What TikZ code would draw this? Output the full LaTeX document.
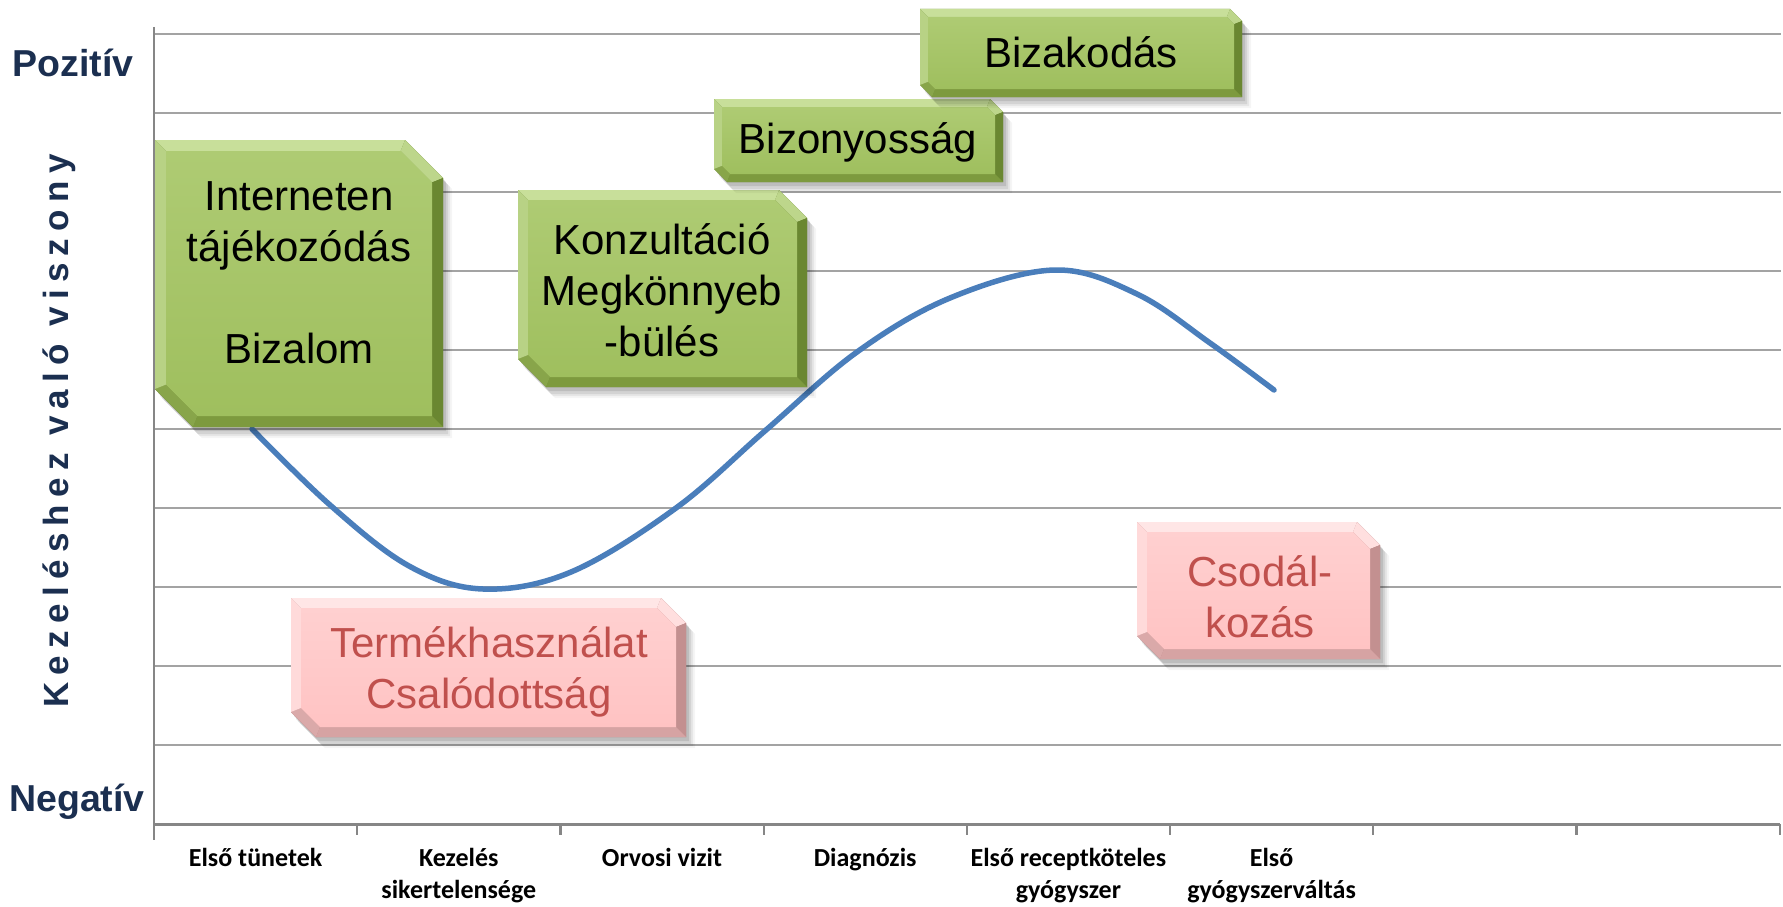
\documentclass[tikz,border=0pt]{standalone}
\usepackage{fontspec}
\setmainfont{Liberation Sans}
\newfontfamily\calfont{Carlito}
\newfontfamily\spacedfont{Liberation Sans}[LetterSpace=21]
\usetikzlibrary{calc}
\pgfdeclarelayer{bg}
\pgfdeclarelayer{boxlayer}
\pgfsetlayers{bg,boxlayer,main}

\definecolor{navy}{HTML}{1B2F50}
\definecolor{gridgray}{HTML}{A3A3A3}
\definecolor{axisgray}{HTML}{868686}
\definecolor{curveblue}{HTML}{4A7EBB}
\definecolor{pinktext}{HTML}{C0504D}
% green palette
\definecolor{gFaceT}{HTML}{AECB73}
\definecolor{gFaceB}{HTML}{9FBF5E}
\definecolor{gTop}{HTML}{C8DF9A}
\definecolor{gLeft}{HTML}{B8D285}
\definecolor{gTR}{HTML}{BDD68B}
\definecolor{gRight}{HTML}{6A8731}
\definecolor{gBot}{HTML}{7D9A3E}
\definecolor{gBL}{HTML}{88A54A}
\definecolor{gEdge}{HTML}{5F7A2A}
% pink palette
\definecolor{pFaceT}{HTML}{FFD0D0}
\definecolor{pFaceB}{HTML}{FFC3C3}
\definecolor{pTop}{HTML}{FFE6E6}
\definecolor{pLeft}{HTML}{FFDADA}
\definecolor{pTR}{HTML}{FFDFDF}
\definecolor{pRight}{HTML}{C39090}
\definecolor{pBot}{HTML}{D6A3A3}
\definecolor{pBL}{HTML}{DAA9A9}
\definecolor{pEdge}{HTML}{B07C7C}

\newcommand\bevelbox[7]{%
 \def\bxL{#1}\def\bxT{#2}\def\bxR{#3}\def\bxB{#4}\def\bxc{#5}\def\bxw{#6}%
 \pgfmathsetmacro\bxd{#5-0.6*#6}%
 \begin{pgfonlayer}{boxlayer}
 \foreach \sx/\sy/\op in {9/11/0.04,7/9/0.06,5/7/0.08,3/4/0.1}{%
   \fill[black,opacity=\op,shift={(\sx,\sy)}] (\bxL,\bxT) -- ({\bxR-\bxc},\bxT) -- (\bxR,{\bxT+\bxc}) -- (\bxR,\bxB) -- ({\bxL+\bxc},\bxB) -- (\bxL,{\bxB-\bxc}) -- cycle;}
 \fill[#7Edge] (\bxL,\bxT) -- ({\bxR-\bxc},\bxT) -- (\bxR,{\bxT+\bxc}) -- (\bxR,\bxB) -- ({\bxL+\bxc},\bxB) -- (\bxL,{\bxB-\bxc}) -- cycle;
 \fill[#7Top] (\bxL,\bxT) -- ({\bxR-\bxc},\bxT) -- ({\bxR-\bxw-\bxd},{\bxT+\bxw}) -- ({\bxL+\bxw},{\bxT+\bxw}) -- cycle;
 \fill[#7TR] ({\bxR-\bxc},\bxT) -- (\bxR,{\bxT+\bxc}) -- ({\bxR-\bxw},{\bxT+\bxw+\bxd}) -- ({\bxR-\bxw-\bxd},{\bxT+\bxw}) -- cycle;
 \fill[#7Right] (\bxR,{\bxT+\bxc}) -- (\bxR,\bxB) -- ({\bxR-\bxw},{\bxB-\bxw}) -- ({\bxR-\bxw},{\bxT+\bxw+\bxd}) -- cycle;
 \fill[#7Bot] (\bxR,\bxB) -- ({\bxL+\bxc},\bxB) -- ({\bxL+\bxw+\bxd},{\bxB-\bxw}) -- ({\bxR-\bxw},{\bxB-\bxw}) -- cycle;
 \fill[#7BL] ({\bxL+\bxc},\bxB) -- (\bxL,{\bxB-\bxc}) -- ({\bxL+\bxw},{\bxB-\bxw-\bxd}) -- ({\bxL+\bxw+\bxd},{\bxB-\bxw}) -- cycle;
 \fill[#7Left] (\bxL,{\bxB-\bxc}) -- (\bxL,\bxT) -- ({\bxL+\bxw},{\bxT+\bxw}) -- ({\bxL+\bxw},{\bxB-\bxw-\bxd}) -- cycle;
 \shade[top color=#7FaceT, bottom color=#7FaceB] ({\bxL+\bxw},{\bxT+\bxw}) -- ({\bxR-\bxw-\bxd},{\bxT+\bxw}) -- ({\bxR-\bxw},{\bxT+\bxw+\bxd}) -- ({\bxR-\bxw},{\bxB-\bxw}) -- ({\bxL+\bxw+\bxd},{\bxB-\bxw}) -- ({\bxL+\bxw},{\bxB-\bxw-\bxd}) -- cycle;
 \end{pgfonlayer}}

\begin{document}
\begin{tikzpicture}[x=1pt,y=-1pt,
  gridline/.style={draw=gridgray,line width=1.8pt},
  axisline/.style={draw=axisgray,line width=2.2pt},
  curveline/.style={draw=curveblue,line width=5.5pt,line cap=round},
  endlabel/.style={font=\fontsize{37.5}{45}\selectfont\bfseries,text=navy,inner sep=0pt,anchor=base},
  ytitle/.style={font=\fontsize{35}{42}\spacedfont\bfseries,text=navy,inner sep=0pt,rotate=90},
  xlab/.style={font=\fontsize{26}{32}\calfont\bfseries,text=black,inner sep=0pt,anchor=north,align=center},
  gtext/.style={font=\fontsize{42}{51}\selectfont,text=black,inner sep=0pt,align=center},
  ptext/.style={font=\fontsize{42}{51}\selectfont,text=pinktext,inner sep=0pt,align=center}]

\useasboundingbox (0,0) rectangle (1783,907);

\begin{pgfonlayer}{bg}
 \fill[white] (0,0) rectangle (1783,907);
 \foreach \k in {0,...,9}{\draw[gridline] (154,{34+79.04*\k}) -- (1781,{34+79.04*\k});}
 \draw[axisline] (154,27) -- (154,840);
 \draw[axisline] (154,824.4) -- (1780,824.4);
 \foreach \k in {1,...,8}{\draw[axisline] ({154+203.2*\k},824.4) -- ({154+203.2*\k},835);}
 \draw[curveline] plot[smooth,tension=0.6] coordinates {(252,429) (330,505) (409,566) (483,589) (571,572) (676,508) (766,430) (857,352) (950,298) (1055,270) (1137,294) (1210,343) (1274,390)};
\end{pgfonlayer}

% boxes
\bevelbox{155}{140}{443}{427}{38}{11}{g}
\bevelbox{518}{190}{807}{387}{28}{10}{g}
\bevelbox{714}{99}{1003}{182}{13}{8}{g}
\bevelbox{920}{9}{1242}{97}{12}{8}{g}
\bevelbox{291}{598}{686}{737}{25}{10}{p}
\bevelbox{1137}{522}{1380}{659}{23}{10}{p}

\node[gtext] (internet) at (299,273) {Interneten\\tájékozódás\\[51pt]Bizalom};
\node[gtext] (konzult) at (662,290) {Konzultáció\\Megkönnyeb\\-bülés};
\node[gtext] (bizony) at (858,142) {Bizonyosság};
\node[gtext] (bizak) at (1081,52) {Bizakodás};
\node[ptext] (termek) at (489,672) {Termékhasználat\\Csalódottság};
\node[ptext] (csodal) at (1260,597) {Csodál-\\kozás};

% axis labels
\node[endlabel] (poz) at (73,77) {Pozitív};
\node[endlabel] (neg) at (77,811) {Negatív};
\node[ytitle] (ytit) at (59,431) {Kezeléshez való viszony};

\node[xlab] (x1) at (255.6,843.6) {\strut Első tünetek};
\node[xlab] (x2) at (458.8,843.6) {\strut Kezelés\\sikertelensége};
\node[xlab] (x3) at (662,843.6) {\strut Orvosi vizit};
\node[xlab] (x4) at (865.2,843.6) {\strut Diagnózis};
\node[xlab] (x5) at (1068.4,843.6) {\strut Első receptköteles\\gyógyszer};
\node[xlab] (x6) at (1271.6,843.6) {\strut Első\\gyógyszerváltás};
\end{tikzpicture}
\end{document}
